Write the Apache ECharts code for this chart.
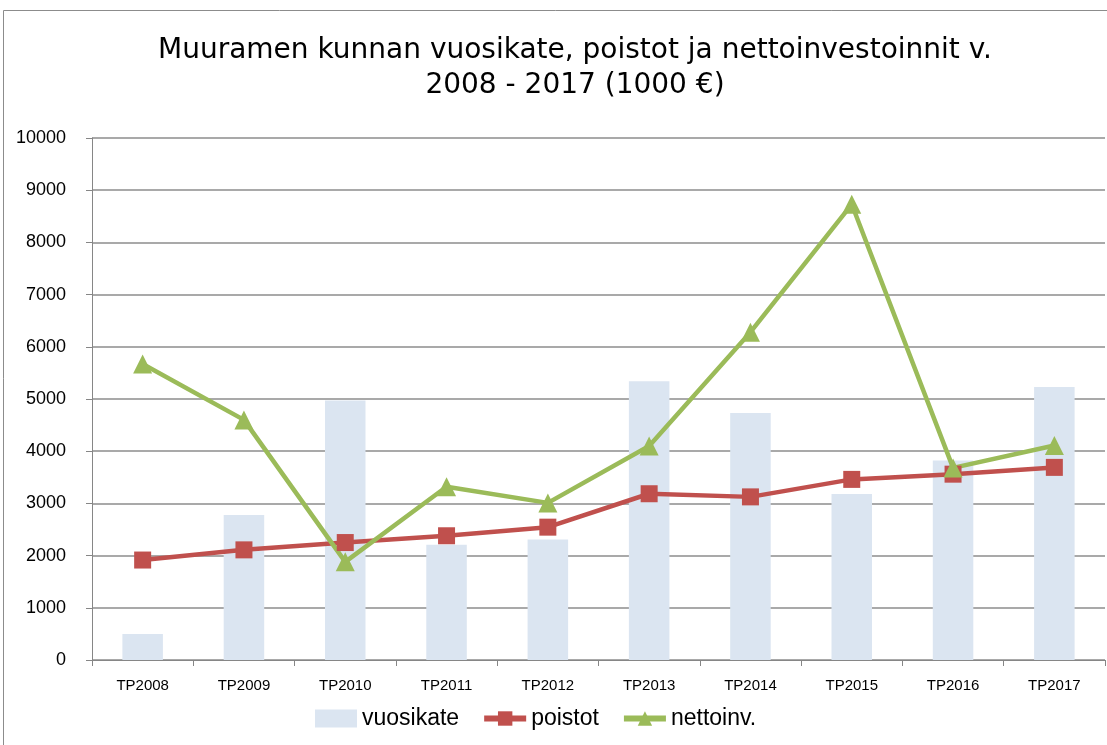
<!DOCTYPE html>
<html>
<head>
<meta charset="utf-8">
<script src="https://cdn.jsdelivr.net/npm/echarts@6/dist/echarts.min.js"></script>
<style>
  html, body { margin: 0; padding: 0; background: #fff; }
  #chart { width: 1107px; height: 745px; }
</style>
</head>
<body>
<div id="chart"></div>
<script>
  var categories = ['TP2008', 'TP2009', 'TP2010', 'TP2011', 'TP2012', 'TP2013', 'TP2014', 'TP2015', 'TP2016', 'TP2017'];
  var vuosikate = [500, 2780, 4970, 2210, 2310, 5340, 4730, 3180, 3820, 5230];
  var poistot = [1915, 2110, 2250, 2380, 2545, 3185, 3125, 3460, 3560, 3690];
  var nettoinv = [5670, 4600, 1880, 3320, 3010, 4100, 6280, 8730, 3680, 4110];
  var seriesNames = ['vuosikate', 'poistot', 'nettoinv.'];

  var myChart = echarts.init(document.getElementById('chart'));

  var option = {
    animation: false,
    backgroundColor: '#fff',
    graphic: [{
      type: 'rect',
      shape: { x: 3.5, y: 10.5, width: 1120, height: 760 },
      style: { fill: 'none', stroke: '#8c8c8c', lineWidth: 1 },
      silent: true
    }],
    title: {
      text: 'Muuramen kunnan vuosikate, poistot ja nettoinvestoinnit v.\n2008 - 2017 (1000 €)',
      left: 570,
      textAlign: 'center',
      top: 28,
      textStyle: {
        fontFamily: 'DejaVu Sans',
        fontWeight: 'normal',
        fontSize: 28,
        lineHeight: 35,
        color: '#000'
      }
    },
    legend: {
      top: 702,
      left: 310,
      itemGap: 22,
      itemWidth: 42,
      itemHeight: 18,
      data: [{
        name: seriesNames[0],
        icon: 'rect'
      }, {
        name: seriesNames[1],
        lineStyle: { color: '#c0504d', width: 6 }
      }, {
        name: seriesNames[2],
        lineStyle: { color: '#9bbb59', width: 6 }
      }],
      textStyle: {
        fontFamily: 'Liberation Sans',
        fontSize: 23,
        color: '#000'
      }
    },
    grid: {
      left: 92,
      right: 2,
      top: 138,
      bottom: 85
    },
    xAxis: {
      type: 'category',
      data: categories,
      boundaryGap: true,
      axisLine: { lineStyle: { color: '#868686', width: 1 } },
      axisTick: { show: true, length: 6, inside: false, lineStyle: { color: '#868686' } },
      axisLabel: {
        margin: 18,
        fontFamily: 'Liberation Sans',
        fontSize: 15,
        color: '#000'
      }
    },
    yAxis: {
      type: 'value',
      min: 0,
      max: 10000,
      interval: 1000,
      axisLine: { show: true, lineStyle: { color: '#868686', width: 1 } },
      axisTick: { show: true, length: 6, lineStyle: { color: '#868686' } },
      axisLabel: {
        margin: 26,
        fontFamily: 'Liberation Sans',
        fontSize: 18,
        color: '#000',
        formatter: function(v) { return String(v); }
      },
      splitLine: { lineStyle: { color: '#8c8c8c', width: 1.5 } }
    },
    series: [{
      name: seriesNames[0],
      type: 'bar',
      data: vuosikate,
      barWidth: '40%',
      itemStyle: { color: '#dbe5f1' }
    }, {
      name: seriesNames[1],
      type: 'line',
      data: poistot,
      symbol: 'rect',
      symbolSize: 17,
      lineStyle: { color: '#c0504d', width: 4.5 },
      itemStyle: { color: '#c0504d' }
    }, {
      name: seriesNames[2],
      type: 'line',
      data: nettoinv,
      symbol: 'triangle',
      symbolSize: 19,
      lineStyle: { color: '#9bbb59', width: 4.5 },
      itemStyle: { color: '#9bbb59' }
    }]
  };

  myChart.setOption(option);
</script>
</body>
</html>
